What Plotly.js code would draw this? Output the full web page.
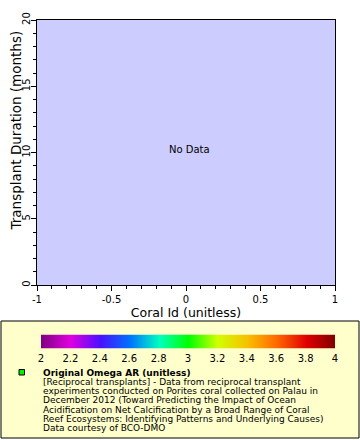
<!DOCTYPE html>
<html><head><meta charset="utf-8">
<script src="https://cdn.plot.ly/plotly-3.0.1.min.js"></script>
<style>html,body{margin:0;padding:0;background:#fff}#chart{width:360px;height:440px}</style>
</head><body><div id="chart"></div>
<script>
// Data (the source has no data points: "No Data")
var coralId = [];
var transplantDuration = [];
var xTickVals = [-1, -0.5, 0, 0.5, 1];
var xTickText = ['-1', '-0.5', '0', '0.5', '1'];
var yTickVals = [0, 5, 10, 15, 20];
var yTickText = ['0', '5', '10', '15', '20'];
var cbTickVals = [2, 2.2, 2.4, 2.6, 2.8, 3, 3.2, 3.4, 3.6, 3.8, 4];
var cbTickText = ['2', '2.2', '2.4', '2.6', '2.8', '3', '3.2', '3.4', '3.6', '3.8', '4'];
var legendTitle = 'Original Omega AR (unitless)';
var legendLines = [
  '[Reciprocal transplants] - Data from reciprocal transplant',
  'experiments conducted on Porites coral collected on Palau in',
  'December 2012 (Toward Predicting the Impact of Ocean',
  'Acidification on Net Calcification by a Broad Range of Coral',
  'Reef Ecosystems: Identifying Patterns and Underlying Causes)',
  'Data courtesy of BCO-DMO'
];

var W = 360, H = 440;
function px(x) { return x / W; }
function py(y) { return 1 - y / H; }

var FONT = 'DejaVu Sans, sans-serif';
var colorscale = [
  [0, '#800080'], [0.1, '#e000e0'], [0.2, '#4a10ff'], [0.3, '#0070ff'],
  [0.4, '#00ffc0'], [0.5, '#00ff00'], [0.6, '#d0ff00'], [0.7, '#f8c000'],
  [0.8, '#ff6a00'], [0.9, '#e00000'], [1, '#800000']
];

var traces = [
  {type: 'scatter', mode: 'markers', x: coralId, y: transplantDuration, showlegend: false, hoverinfo: 'skip'},
  {type: 'scatter', mode: 'markers', x: coralId, y: transplantDuration, xaxis: 'x2', yaxis: 'y2', showlegend: false, hoverinfo: 'skip'},
  {type: 'heatmap', x: cbTickVals, y: [0], z: [cbTickVals], xaxis: 'x3', yaxis: 'y3',
   zmin: 2, zmax: 4, colorscale: colorscale, showscale: false, zsmooth: 'best', hoverinfo: 'skip'}
];

var LF = 9;
var annotations = [
  {xref: 'paper', yref: 'paper', x: px(189), y: py(149), xanchor: 'center', yanchor: 'middle', text: 'No Data', showarrow: false,
   font: {family: FONT, size: 10, color: '#000'}},
  {xref: 'paper', yref: 'paper', x: px(15.5), y: py(131), xanchor: 'center', yanchor: 'middle',
   text: 'Transplant Duration (months)', textangle: -90,
   showarrow: false, font: {family: FONT, size: 13.5, color: '#000'}},
  {xref: 'paper', yref: 'paper', x: px(41), y: py(372.5), xanchor: 'left', yanchor: 'middle',
   text: '<b>' + legendTitle + '</b>', showarrow: false, font: {family: FONT, size: LF, color: '#000'}}
];
legendLines.forEach(function (t, i) {
  annotations.push({xref: 'paper', yref: 'paper', x: px(41), y: py(381.8 + i * 9.25), xanchor: 'left', yanchor: 'middle',
    text: t, showarrow: false, font: {family: FONT, size: LF, color: '#000'}});
});

var layout = {
  width: W, height: H,
  margin: {l: 0, r: 0, t: 0, b: 0, pad: 0},
  paper_bgcolor: '#ffffff', plot_bgcolor: '#ccccff',
  font: {family: FONT, size: 10, color: '#000'},
  xaxis: {
    domain: [px(37), px(335)], anchor: 'y',
    range: [-1, 1], showgrid: false, zeroline: false, showline: true, mirror: true,
    linecolor: '#000', linewidth: 1, ticks: 'outside', ticklen: 5, tickcolor: '#000',
    tickmode: 'array', tickvals: xTickVals, ticktext: xTickText,
    tickfont: {family: FONT, size: 10}, fixedrange: true,
    title: {text: 'Coral Id (unitless)', font: {family: FONT, size: 12.5}, standoff: 4}
  },
  yaxis: {
    domain: [py(285), py(20)], anchor: 'x',
    range: [0, 20], showgrid: false, zeroline: false, showline: true, mirror: true,
    linecolor: '#000', linewidth: 1, ticks: 'outside', ticklen: 5, tickcolor: '#000',
    tickmode: 'array', tickvals: yTickVals, ticktext: yTickText, tickangle: -90, ticklabelstandoff: -3,
    tickfont: {family: FONT, size: 10}, fixedrange: true
  },
  xaxis2: {
    overlaying: 'x', anchor: 'y', side: 'bottom', range: [-1, 1], tickmode: 'linear', tick0: -1, dtick: 0.1,
    ticks: 'outside', ticklen: 3, tickcolor: '#000', showticklabels: false, showgrid: false,
    zeroline: false, showline: false, fixedrange: true
  },
  yaxis2: {
    overlaying: 'y', anchor: 'x', side: 'left', range: [0, 20], tickmode: 'linear', tick0: 0, dtick: 1,
    ticks: 'outside', ticklen: 3, tickcolor: '#000', showticklabels: false, showgrid: false,
    zeroline: false, showline: false, fixedrange: true
  },
  xaxis3: {
    domain: [px(41), px(335)], anchor: 'y3', range: [2, 4], tickmode: 'array', tickvals: cbTickVals, ticktext: cbTickText,
    ticks: '', showline: false, showgrid: false, zeroline: false, tickfont: {family: FONT, size: 10}, fixedrange: true,
    ticklabelstandoff: 2
  },
  yaxis3: {
    domain: [py(348.5), py(334.5)], anchor: 'x3', range: [-0.5, 0.5], showticklabels: false, ticks: '',
    showline: false, showgrid: false, zeroline: false, fixedrange: true
  },
  shapes: [
    {type: 'rect', xref: 'paper', yref: 'paper', x0: px(1), x1: px(359), y0: py(321), y1: py(438),
     fillcolor: '#ffffcc', line: {color: '#000', width: 1}, layer: 'below'},
    {type: 'rect', xref: 'paper', yref: 'paper', x0: px(19), x1: px(24.5), y0: py(369.5), y1: py(375),
     fillcolor: '#00f000', line: {color: '#000', width: 1}}
  ],
  annotations: annotations,
  showlegend: false
};

Plotly.newPlot('chart', traces, layout, {displayModeBar: false, staticPlot: true});
</script></body></html>
